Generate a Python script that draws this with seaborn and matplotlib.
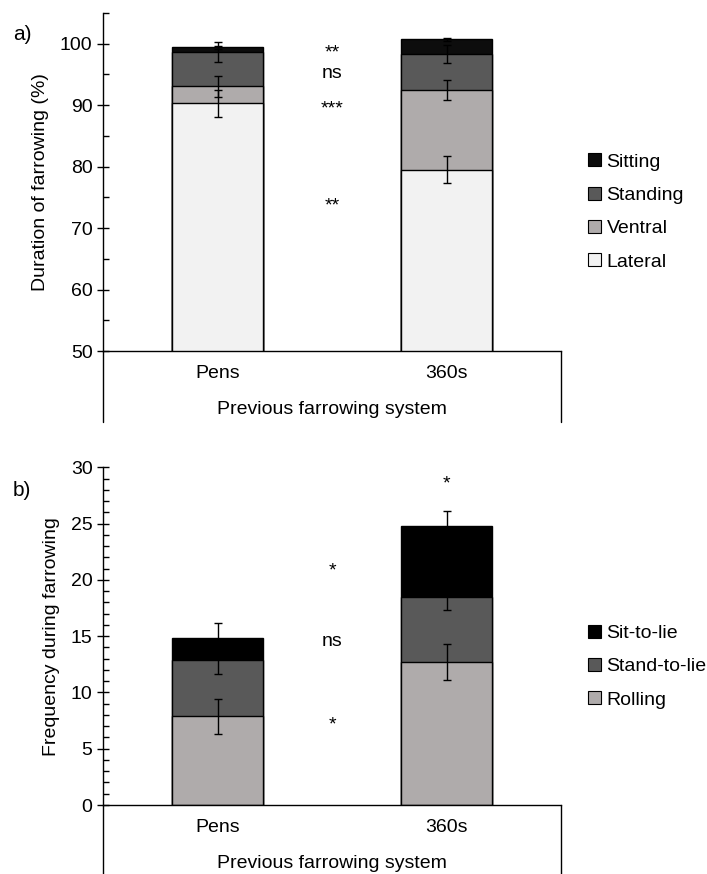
import numpy as np
import pandas as pd
import matplotlib
matplotlib.use('Agg')
import matplotlib.pyplot as plt
from matplotlib.patches import Patch
from matplotlib.ticker import MultipleLocator
import seaborn as sns

# values
systems = ['Pens', '360s']

# a) duration of farrowing (%)
lateral = [90.3, 79.5]
ventral = [2.75, 13.0]
standing = [5.6, 5.85]
sitting = [0.8, 2.35]
lateral_se = [2.2, 2.2]
ventral_se = [1.65, 1.65]
standing_se = [1.65, 1.5]
sitting_se = [0.25, 0.25]
sig_a = ['**', 'ns', '***', '**']
sig_a_y = [97.7, 94.4, 88.6, 72.8]

# b) frequency during farrowing
rolling = [7.9, 12.7]
stand_to_lie = [4.95, 5.8]
sit_to_lie = [2.0, 6.3]
rolling_se = [1.55, 1.58]
stand_to_lie_se = [1.22, 1.18]
sit_to_lie_se = [1.36, 1.33]
sig_b = ['*', 'ns', '*']
sig_b_y = [20.35, 14.1, 6.75]
sig_b_top = '*'
sig_b_top_y = 28.15

sns.set_theme(style='white')
plt.rcParams['font.family'] = ['Liberation Sans', 'DejaVu Sans']
plt.rcParams['text.color'] = 'black'
plt.rcParams['axes.labelcolor'] = 'black'
plt.rcParams['xtick.color'] = 'black'
plt.rcParams['ytick.color'] = 'black'

fig = plt.figure(figsize=(7.07, 8.74), dpi=100)
axA = fig.add_axes([103/707, 1-351/874, 458/707, 338/874])
axB = fig.add_axes([103/707, 1-805/874, 458/707, 337.7/874])


def stacked(ax, layers, errs, colors):
    xpos = np.arange(len(systems))
    tops = np.cumsum(np.array(layers), axis=0)
    # draw tallest first so lower segments overlay
    for i in range(len(layers) - 1, -1, -1):
        sns.barplot(x=systems, y=tops[i], color=colors[i], saturation=1,
                    width=0.4, edgecolor='black', linewidth=1, ax=ax)
    for i in range(len(layers)):
        ax.errorbar(xpos, tops[i], yerr=errs[i], fmt='none', ecolor='black',
                    elinewidth=1, capsize=3, capthick=1, zorder=5)


def style_axis(ax, lo, hi, major, minor, ext):
    ax.set_xlim(-0.5, 1.5)
    ax.yaxis.set_major_locator(MultipleLocator(major))
    ax.yaxis.set_minor_locator(MultipleLocator(minor))
    ax.set_ylim(lo, hi)
    ax.tick_params(axis='y', which='major', direction='inout', length=9,
                   width=1, labelsize=14, pad=3, left=True, color='black')
    ax.tick_params(axis='y', which='minor', direction='in', length=4,
                   width=1, left=True, color='black')
    ax.tick_params(axis='x', length=0, labelsize=14, pad=10)
    for s in ['top', 'right']:
        ax.spines[s].set_visible(False)
    for s in ['left', 'bottom']:
        ax.spines[s].set_color('black')
        ax.spines[s].set_linewidth(1)
    for xx in (0, 1):
        ax.plot([xx, xx], [0, -ext], transform=ax.transAxes, color='black',
                lw=1, clip_on=False)
    ax.set_xlabel('Previous farrowing system', fontsize=14, va='center')
    ax.xaxis.set_label_coords(0.5, -59/338)


stacked(axA, [lateral, ventral, standing, sitting],
        [lateral_se, ventral_se, standing_se, sitting_se],
        ['#f2f2f2', '#afabab', '#595959', '#0d0d0d'])
style_axis(axA, 50, 105, 10, 5, 71/338)
axA.set_yticks([50, 60, 70, 80, 90, 100])
axA.set_ylabel('Duration of farrowing (%)', fontsize=14, labelpad=8)
for s, y in zip(sig_a, sig_a_y):
    axA.text(0.5, y, s, ha='center', va='baseline', fontsize=14)

stacked(axB, [rolling, stand_to_lie, sit_to_lie],
        [rolling_se, stand_to_lie_se, sit_to_lie_se],
        ['#afabab', '#595959', '#000000'])
style_axis(axB, 0, 30, 5, 1, 80/338)
axB.set_yticks([0, 5, 10, 15, 20, 25, 30])
axB.set_ylabel('Frequency during farrowing', fontsize=14, labelpad=8)
for s, y in zip(sig_b, sig_b_y):
    axB.text(0.5, y, s, ha='center', va='baseline', fontsize=14)
axB.text(1, sig_b_top_y, sig_b_top, ha='center', va='baseline', fontsize=14)

fig.text(22/707, 1-35/874, 'a)', fontsize=15, ha='center', va='center')
fig.text(22/707, 1-490/874, 'b)', fontsize=15, ha='center', va='center')

leg_a = [Patch(facecolor=c, edgecolor='black', linewidth=0.8, label=l) for c, l in
         zip(['#0d0d0d', '#595959', '#afabab', '#f2f2f2'],
             ['Sitting', 'Standing', 'Ventral', 'Lateral'])]
fig.legend(handles=leg_a, loc='center left', bbox_to_anchor=(588/707, 1-212/874),
           frameon=False, fontsize=14, handlelength=0.65, handleheight=0.65,
           handletextpad=0.3, labelspacing=0.82, borderpad=0, borderaxespad=0)

leg_b = [Patch(facecolor=c, edgecolor='black', linewidth=0.8, label=l) for c, l in
         zip(['#000000', '#595959', '#afabab'],
             ['Sit-to-lie', 'Stand-to-lie', 'Rolling'])]
fig.legend(handles=leg_b, loc='center left', bbox_to_anchor=(588/707, 1-666.7/874),
           frameon=False, fontsize=14, handlelength=0.65, handleheight=0.65,
           handletextpad=0.3, labelspacing=0.82, borderpad=0, borderaxespad=0)

fig.savefig('out.png', dpi=100)
